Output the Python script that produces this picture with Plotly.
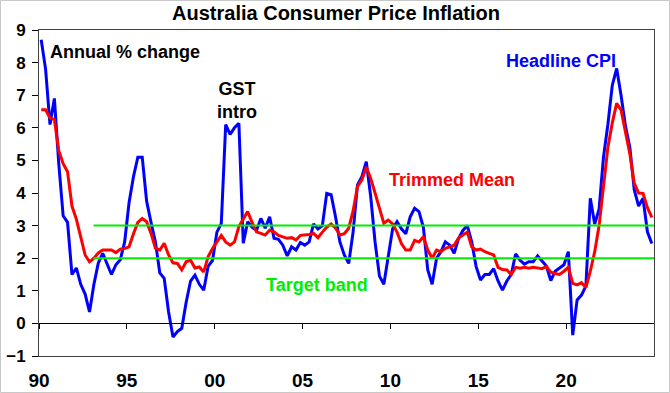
import plotly.graph_objects as go

# Quarterly, 1990 Q1 .. 2024 Q4 (annual % change)
start_year = 1990
end_year = 2024

headline_cpi = [
    8.7, 7.8, 6.1, 6.9,      # 1990
    4.9, 3.3, 3.1, 1.5,      # 1991
    1.7, 1.2, 0.9, 0.35,     # 1992
    1.2, 1.85, 2.15, 1.85,   # 1993
    1.5, 1.8, 1.95, 2.5,     # 1994
    3.7, 4.5, 5.1, 5.1,      # 1995
    3.75, 3.1, 2.5, 1.55,    # 1996
    1.38, 0.35, -0.42, -0.25,# 1997
    -0.15, 0.65, 1.3, 1.48,  # 1998
    1.2, 1.02, 1.75, 1.93,   # 1999
    2.8, 3.07, 6.1, 5.8,     # 2000
    6.0, 6.14, 2.46, 3.12,   # 2001
    2.95, 2.85, 3.22, 2.92,  # 2002
    3.27, 2.61, 2.58, 2.4,   # 2003
    2.07, 2.35, 2.25, 2.48,  # 2004
    2.4, 2.5, 3.05, 2.9,     # 2005
    3.0, 3.99, 3.95, 3.27,   # 2006
    2.5, 2.1, 1.84, 2.8,     # 2007
    4.25, 4.5, 4.96, 3.9,    # 2008
    2.5, 1.45, 1.2, 2.05,    # 2009
    2.9, 3.12, 2.9, 2.75,    # 2010
    3.27, 3.53, 3.43, 2.95,  # 2011
    1.64, 1.2, 2.0, 2.2,     # 2012
    2.5, 2.4, 2.15, 2.6,     # 2013
    2.85, 3.0, 2.5, 1.75,    # 2014
    1.33, 1.5, 1.5, 1.68,    # 2015
    1.3, 1.02, 1.3, 1.5,     # 2016
    2.13, 1.94, 1.82, 1.89,  # 2017
    1.89, 2.07, 1.9, 1.76,   # 2018
    1.31, 1.6, 1.7, 1.8,     # 2019
    2.2, -0.36, 0.72, 0.87,  # 2020
    1.15, 3.84, 3.05, 3.5,   # 2021
    5.1, 6.1, 7.3, 7.82,     # 2022
    7.0, 6.05, 5.4, 4.1,     # 2023
    3.6, 3.84, 2.81, 2.45,   # 2024
]

trimmed_mean = [
    6.55, 6.55, 6.3, 6.25,   # 1990
    5.3, 4.9, 4.65, 3.6,     # 1991
    3.2, 2.6, 2.1, 1.89,     # 1992
    2.0, 2.16, 2.25, 2.25,   # 1993
    2.25, 2.17, 2.28, 2.3,   # 1994
    2.35, 2.75, 3.1, 3.22,   # 1995
    3.12, 2.76, 2.31, 2.25,  # 1996
    2.46, 2.1, 1.86, 1.84,   # 1997
    1.64, 1.89, 1.94, 1.7,   # 1998
    1.73, 1.58, 2.05, 2.3,   # 1999
    2.5, 2.7, 2.5, 2.4,      # 2000
    2.5, 2.97, 3.2, 3.43,    # 2001
    3.1, 2.81, 2.76, 2.71,   # 2002
    2.86, 2.81, 2.7, 2.65,   # 2003
    2.61, 2.63, 2.56, 2.7,   # 2004
    2.71, 2.73, 2.76, 2.63,  # 2005
    2.8, 2.95, 3.05, 2.92,   # 2006
    2.71, 2.75, 2.92, 3.45,  # 2007
    4.2, 4.4, 4.8, 4.45,     # 2008
    4.0, 3.5, 3.07, 3.17,    # 2009
    3.05, 2.8, 2.45, 2.25,   # 2010
    2.25, 2.55, 2.5, 2.66,   # 2011
    2.25, 2.0, 2.25, 2.2,    # 2012
    2.3, 2.35, 2.4, 2.62,    # 2013
    2.7, 2.8, 2.35, 2.25,    # 2014
    2.28, 2.2, 2.15, 2.1,    # 2015
    1.72, 1.65, 1.64, 1.5,   # 2016
    1.72, 1.69, 1.72, 1.69,  # 2017
    1.72, 1.7, 1.68, 1.75,   # 2018
    1.57, 1.53, 1.5, 1.6,    # 2019
    1.72, 1.23, 1.18, 1.25,  # 2020
    1.1, 1.6, 2.2, 3.0,      # 2021
    4.2, 5.4, 6.15, 6.75,    # 2022
    6.55, 5.9, 5.2, 4.3,     # 2023
    4.0, 3.99, 3.55, 3.25,   # 2024
]

# quarter positions (mid-quarter, in years)
quarters = [y + (q - 0.5) / 4 for y in range(start_year, end_year + 1) for q in range(1, 5)]

tick_years = [1990, 1995, 2000, 2005, 2010, 2015, 2020]
tick_labels = ["90", "95", "00", "05", "10", "15", "20"]

target_low = 2
target_high = 3
target_start = 1993.1
axis_end = 2025

FONT = "Liberation Sans, Arial, sans-serif"
BLUE = "#0000FF"
RED = "#FF0000"
GREEN = "#00EE00"

fig = go.Figure()

for lvl in (target_high, target_low):
    fig.add_trace(go.Scatter(
        x=[target_start, axis_end], y=[lvl, lvl], mode="lines",
        line=dict(color=GREEN, width=2), xaxis="x2", yaxis="y",
        hoverinfo="skip", showlegend=False))

fig.add_trace(go.Scatter(x=quarters, y=headline_cpi, mode="lines",
                         line=dict(color=BLUE, width=3), name="Headline CPI",
                         showlegend=False))
fig.add_trace(go.Scatter(x=quarters, y=trimmed_mean, mode="lines",
                         line=dict(color=RED, width=3), name="Trimmed Mean",
                         showlegend=False))

W, H = 670, 393
ML, MR, MT, MB = 39, 16, 30, 37
pw, ph = W - ML - MR, H - MT - MB

fig.update_layout(
    width=W, height=H,
    margin=dict(l=ML, r=MR, t=MT, b=MB, autoexpand=False),
    paper_bgcolor="white", plot_bgcolor="white",
    font=dict(family=FONT, color="black"),
    title=dict(text="Australia Consumer Price Inflation",
               font=dict(family=FONT, size=20, weight="bold", color="black"),
               xref="container", yref="container", x=336 / W, y=1 - 13 / H,
               xanchor="center", yanchor="middle", automargin=False),
    xaxis=dict(range=[start_year, axis_end], tickvals=tick_years, ticktext=tick_labels,
               ticks="", showline=True, linecolor="#404040", linewidth=1, mirror=True,
               showgrid=False, zeroline=False, ticklabelstandoff=7, automargin=False,
               tickfont=dict(family=FONT, size=19, weight="bold", color="black")),
    xaxis2=dict(range=[start_year, axis_end], tickvals=tick_years, overlaying="x",
                anchor="free", position=0.1, side="bottom", automargin=False,
                ticks="outside", ticklen=5, tickcolor="black", tickwidth=1,
                showline=True, linecolor="black", linewidth=1,
                showticklabels=False, showgrid=False, zeroline=False),
    yaxis=dict(range=[-1, 9], dtick=1, tick0=0, ticks="outside", ticklen=6,
               tickcolor="black", showline=True, linecolor="#404040", linewidth=1,
               mirror=True, showgrid=False, zeroline=False, ticklabelstandoff=3,
               automargin=False,
               tickfont=dict(family=FONT, size=17, weight="bold", color="black")),
    showlegend=False,
)

ann_font = dict(family=FONT, size=18, weight="bold")
fig.add_annotation(x=1990.53, y=8.33, text="Annual % change", showarrow=False,
                   xanchor="left", yanchor="middle", font=dict(ann_font, color="black"))
fig.add_annotation(x=2001.27, y=6.84, text="GST<br>intro", showarrow=False,
                   xanchor="center", yanchor="middle", font=dict(ann_font, color="black"))
fig.add_annotation(x=2019.68, y=8.06, text="Headline CPI", showarrow=False,
                   xanchor="center", yanchor="middle", font=dict(ann_font, color=BLUE))
fig.add_annotation(x=2013.51, y=4.40, text="Trimmed Mean", showarrow=False,
                   xanchor="center", yanchor="middle", font=dict(ann_font, color=RED))
fig.add_annotation(x=2005.84, y=1.18, text="Target band", showarrow=False,
                   xanchor="center", yanchor="middle", font=dict(ann_font, color=GREEN))

# light frame around the whole chart
fig.add_shape(type="rect", xref="paper", yref="paper",
              x0=-(ML - 0.5) / pw, x1=1 + (MR - 0.5) / pw,
              y0=-(MB - 0.5) / ph, y1=1 + (MT - 0.5) / ph,
              line=dict(color="#c8c8c8", width=1), fillcolor="rgba(0,0,0,0)", layer="below")

fig.write_html("out.html", config={"displayModeBar": False},
               post_script="document.body.style.margin='0';document.body.style.overflow='hidden';")
